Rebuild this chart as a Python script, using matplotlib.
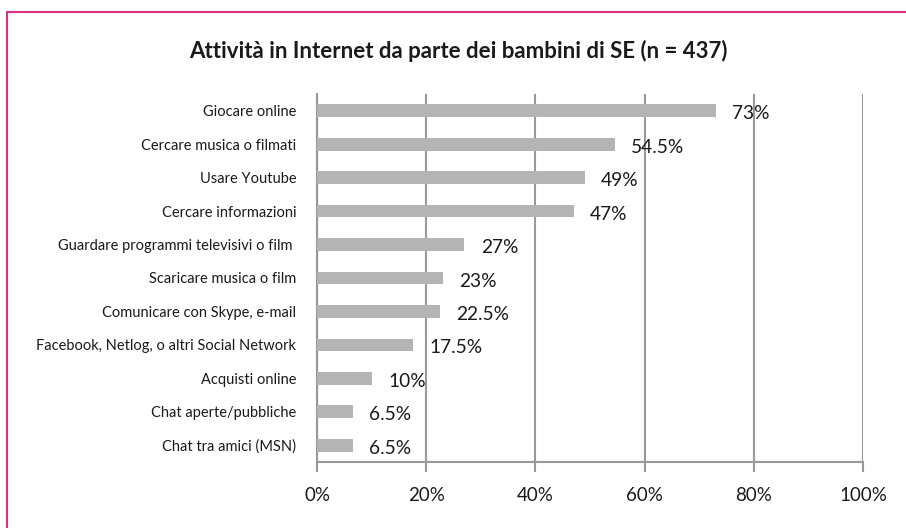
import matplotlib.pyplot as plt
from matplotlib.patches import Rectangle

plt.rcParams['font.family'] = ['Lato', 'DejaVu Sans']

categorie = [
    "Giocare online",
    "Cercare musica o filmati",
    "Usare Youtube",
    "Cercare informazioni",
    "Guardare programmi televisivi o film ",
    "Scaricare musica o film",
    "Comunicare con Skype, e-mail",
    "Facebook, Netlog, o altri Social Network",
    "Acquisti online",
    "Chat aperte/pubbliche",
    "Chat tra amici (MSN)",
]
percentuali = [73, 54.5, 49, 47, 27, 23, 22.5, 17.5, 10, 6.5, 6.5]
etichette = ["73%", "54.5%", "49%", "47%", "27%", "23%", "22.5%", "17.5%", "10%", "6.5%", "6.5%"]
tick_x = [0, 20, 40, 60, 80, 100]
tick_lab = ["0%", "20%", "40%", "60%", "80%", "100%"]

grigio = "#999999"

fig = plt.figure(figsize=(9.06, 5.28), dpi=100)
ax = fig.add_axes([0.35, 0.125, 0.6025, 0.697])

y = list(range(len(categorie)))
ax.barh(y, percentuali, height=0.38, color="#b4b4b4", zorder=3)
for yi, v, t in zip(y, percentuali, etichette):
    ax.text(v + 3.0, yi + 0.09, t, va="center", ha="left", fontsize=13.8,
            color="#1a1a1a", zorder=4)

ax.set_xlim(0, 100)
ax.set_ylim(len(categorie) - 0.5, -0.5)
ax.set_yticks(y)
ax.set_yticklabels(categorie, fontsize=10.5, color="#1a1a1a")
ax.set_xticks(tick_x)
ax.set_xticklabels(tick_lab, fontsize=13.5, color="#1a1a1a")
ax.tick_params(axis="y", length=0, pad=15)
ax.tick_params(axis="x", length=7, width=1.5, color=grigio, pad=11)
ax.xaxis.grid(True, color=grigio, linewidth=1.5, zorder=0)
for s in ["top", "right"]:
    ax.spines[s].set_visible(False)
for s in ["left", "bottom"]:
    ax.spines[s].set_color(grigio)
    ax.spines[s].set_linewidth(1.5)

fig.text(0.506, 0.903, "Attività in Internet da parte dei bambini di SE (n = 437)",
         ha="center", va="center", fontsize=16, fontweight="bold", color="#1a1a1a")

# cornice rosa del grafico
fig.patches.append(Rectangle((7 / 906, -0.1), 1.2, 1 - 12 / 528 + 0.1,
                             transform=fig.transFigure, fill=False,
                             edgecolor="#d9307f", linewidth=1.5))

fig.savefig("out.png", dpi=100)
